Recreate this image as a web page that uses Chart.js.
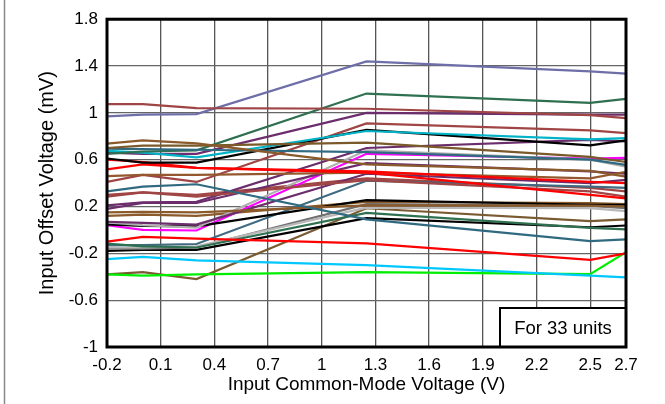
<!DOCTYPE html>
<html>
<head>
<meta charset="utf-8">
<script src="https://cdn.jsdelivr.net/npm/chart.js@4/dist/chart.umd.min.js"></script>
<style>
  html, body { margin: 0; padding: 0; background: #fff; }
  #wrap { width: 665px; height: 404px; position: relative; }
</style>
</head>
<body>
<div id="wrap"><canvas id="offsetChart" width="665" height="404"></canvas></div>
<script>
// common-mode voltage points where each unit was measured
const xValues = [-0.2, 0, 0.3, 1.25, 2.5, 2.7];
const xTicks = [-0.2, 0.1, 0.4, 0.7, 1, 1.3, 1.6, 1.9, 2.2, 2.5, 2.7];
const yTicks = [-1, -0.6, -0.2, 0.2, 0.6, 1, 1.4, 1.8];
const noteText = 'For 33 units';

// input offset voltage (mV) of each unit, one row per unit
const offsets = [
    [1.075, 1.075, 1.04, 1.035, 0.98, 0.955],
    [0.97, 0.985, 0.99, 1.44, 1.355, 1.335],
    [0.737, 0.765, 0.74, 0.56, 0.505, 0.455],
    [0.70, 0.72, 0.72, 0.745, 0.624, 0.58],
    [0.695, 0.69, 0.685, 0.665, 0.60, 0.555],
    [0.65, 0.67, 0.68, 1.165, 1.085, 1.12],
    [0.675, 0.66, 0.62, 0.845, 0.774, 0.785],
    [0.66, 0.65, 0.65, 1.0, 0.985, 0.985],
    [0.61, 0.575, 0.575, 0.855, 0.723, 0.765],
    [0.60, 0.58, 0.53, 0.50, 0.41, 0.40],
    [0.517, 0.56, 0.53, 0.49, 0.30, 0.27],
    [0.46, 0.47, 0.47, 0.49, 0.44, 0.497],
    [0.41, 0.47, 0.41, 0.91, 0.85, 0.827],
    [0.33, 0.37, 0.39, 0.09, -0.095, -0.08],
    [0.285, 0.32, 0.285, 0.425, 0.33, 0.285],
    [0.21, 0.235, 0.24, 0.70, 0.77, 0.757],
    [0.18, 0.23, 0.23, 0.57, 0.50, 0.48],
    [0.15, 0.155, 0.15, 0.21, 0.207, 0.20],
    [0.07, 0.06, 0.046, 0.48, 0.40, 0.427],
    [0.065, 0.04, 0.02, 0.68, 0.60, 0.54],
    [0.047, 0.035, 0.03, 0.255, 0.215, 0.215],
    [0.04, 0.0, -0.005, 0.65, 0.61, 0.615],
    [-0.10, -0.06, -0.075, -0.115, -0.255, -0.20],
    [-0.116, -0.14, -0.15, 0.145, 0.018, 0.004],
    [-0.13, -0.13, -0.12, 0.42, 0.37, 0.36],
    [-0.15, -0.15, -0.14, 0.19, 0.187, 0.16],
    [-0.16, -0.16, -0.15, 0.22, 0.205, 0.185],
    [-0.18, -0.17, -0.17, 0.10, 0.023, 0.038],
    [-0.25, -0.23, -0.26, -0.30, -0.39, -0.405],
    [-0.38, -0.39, -0.38, -0.36, -0.377, -0.19],
    [-0.38, -0.36, -0.42, 0.185, 0.075, 0.09],
    [0.30, 0.32, 0.30, 0.44, 0.36, 0.33],
    [0.12, 0.13, 0.12, 0.24, 0.23, 0.22]
];

const lineColors = [
    '#a04545', '#6e6ea8', '#8b5a2b', '#7a5a2a', '#2f6a80', '#2e7050', '#00b4c8',
    '#6b2d6b', '#000000', '#ff0000', '#ff0000', '#94572e', '#a04545', '#306a80',
    '#a04545', '#6b2d6b', '#6b2d6b', '#8b5a2b', '#6b2d6b', '#b0b0b0', '#000000',
    '#ff00ff', '#ff0000', '#2e7050', '#3f6a80', '#b8b8b8', '#707070', '#000000',
    '#00c8ff', '#00ee00', '#7a5a30', '#a04545', '#8b5a2b'
];

const datasets = offsets.map((row, i) => ({
    label: 'Unit ' + (i + 1),
    data: row.map((v, j) => ({ x: xValues[j], y: v })),
    borderColor: lineColors[i],
    borderWidth: 2.2,
    pointRadius: 0,
    tension: 0,
    fill: false
}));

const fontFamily = '"Liberation Sans", Arial, sans-serif';

// frame round the plot, the note box and the thin line at the left edge
const framePlugin = {
    id: 'frame',
    afterDraw(chart) {
        const ctx = chart.ctx;
        const a = chart.chartArea;
        ctx.save();
        ctx.strokeStyle = '#888';
        ctx.lineWidth = 1.5;
        ctx.beginPath();
        ctx.moveTo(4.5, 0);
        ctx.lineTo(4.5, 404);
        ctx.stroke();

        // note box in the lower right corner
        const bx = 500, by = 308;
        ctx.fillStyle = '#fff';
        ctx.fillRect(bx, by, a.right - bx, a.bottom - by);
        ctx.strokeStyle = '#000';
        ctx.lineWidth = 2;
        ctx.strokeRect(bx, by, a.right - bx, a.bottom - by);
        ctx.fillStyle = '#000';
        ctx.font = '18.5px ' + fontFamily;
        ctx.textAlign = 'center';
        ctx.textBaseline = 'middle';
        ctx.fillText(noteText, (bx + a.right) / 2, (by + a.bottom) / 2 + 1);

        ctx.strokeStyle = '#000';
        ctx.lineWidth = 3;
        ctx.strokeRect(a.left, a.top, a.right - a.left, a.bottom - a.top);
        ctx.restore();
    }
};

const tickFont = { family: fontFamily, size: 17 };

const ctx = document.getElementById('offsetChart').getContext('2d');
const offsetChart = new Chart(ctx, {
    type: 'line',
    data: { datasets: datasets },
    plugins: [framePlugin],
    options: {
        responsive: false,
        animation: false,
        layout: { padding: { top: 16, right: 39, bottom: 0, left: 0 } },
        plugins: {
            legend: { display: false },
            tooltip: { enabled: false }
        },
        scales: {
            x: {
                type: 'linear',
                min: -0.2,
                max: 2.7,
                afterBuildTicks: scale => { scale.ticks = xTicks.map(v => ({ value: v })); },
                afterFit: scale => { scale.height = 57; },
                grid: { color: '#555', lineWidth: 1.3, drawTicks: false },
                border: { display: false },
                ticks: {
                    color: '#000',
                    font: tickFont,
                    padding: 8,
                    maxRotation: 0,
                    autoSkip: false,
                    callback: v => String(v)
                },
                title: {
                    display: true,
                    text: 'Input Common-Mode Voltage (V)',
                    color: '#000',
                    font: { family: fontFamily, size: 19 },
                    padding: { top: 0, bottom: 8 }
                }
            },
            y: {
                min: -1,
                max: 1.8,
                afterBuildTicks: scale => { scale.ticks = yTicks.map(v => ({ value: v })); },
                afterFit: scale => { scale.width = 107; },
                grid: { color: '#666', lineWidth: 1.3, drawTicks: false },
                border: { display: false },
                ticks: {
                    color: '#000',
                    font: tickFont,
                    padding: 9,
                    autoSkip: false,
                    callback: v => String(v)
                },
                title: {
                    display: true,
                    text: 'Input Offset Voltage (mV)',
                    color: '#000',
                    font: { family: fontFamily, size: 20 },
                    padding: { top: 35, bottom: 0 }
                }
            }
        }
    }
});
</script>
</body>
</html>
